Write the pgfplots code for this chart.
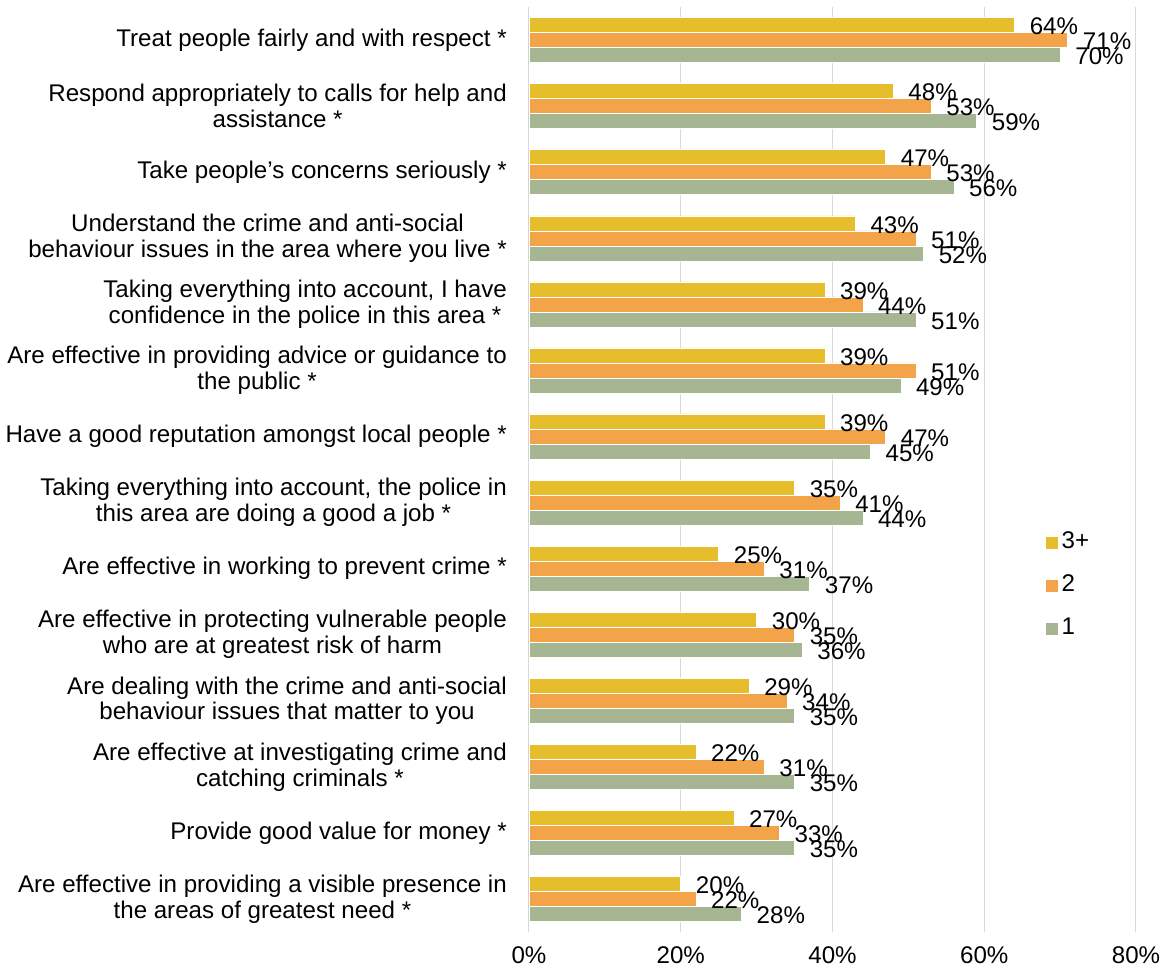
\documentclass[border=0pt]{standalone}
\usepackage{pgfplots}
\pgfplotsset{compat=1.18}
\usepackage{fontspec}
\setmainfont{Liberation Sans}
\definecolor{cThree}{HTML}{E6BE2C}
\definecolor{cTwo}{HTML}{F3A449}
\definecolor{cOne}{HTML}{A6B692}
\definecolor{gridgrey}{HTML}{D9D9D9}

\begin{document}
\begin{tikzpicture}[font=\fontsize{24.2}{26}\selectfont]
\begin{axis}[
  at={(0,0)}, anchor=south west,
  width=607bp, height=925bp, scale only axis,
  xbar, bar width=15bp,
  xmin=0, xmax=80, ymin=-0.5, ymax=13.5, y dir=reverse,
  xtick={0,20,40,60,80},
  xticklabel={\pgfmathprintnumber{\tick}\%},
  /pgf/number format/assume math mode=true,
  xmajorgrids, grid style={gridgrey, line width=1bp},
  axis line style={draw=none},
  major tick length=0pt,
  xticklabel style={anchor=north, inner sep=0pt, yshift=-14bp},
  ytick={0,...,13},
  yticklabels={
    {Treat people fairly and with respect *},
    {Respond appropriately to calls for help and\\assistance *},
    {Take people’s concerns seriously *},
    {Understand the crime and anti-social\\behaviour issues in the area where you live *},
    {Taking everything into account, I have\\confidence in the police in this area *},
    {Are effective in providing advice or guidance to\\the public *},
    {Have a good reputation amongst local people *},
    {Taking everything into account, the police in\\this area are doing a good a job *},
    {Are effective in working to prevent crime *},
    {Are effective in protecting vulnerable people\\who are at greatest risk of harm},
    {Are dealing with the crime and anti-social\\behaviour issues that matter to you},
    {Are effective at investigating crime and\\catching criminals *},
    {Provide good value for money *},
    {Are effective in providing a visible presence in\\the areas of greatest need *}
  },
  yticklabel style={align=center, anchor=east, inner sep=0pt, xshift=-22bp},
  point meta=x,
  nodes near coords={\pgfmathprintnumber{\pgfplotspointmeta}\%},
  nodes near coords style={anchor=west, inner sep=0pt, xshift=15bp, yshift=-1.5bp, black},
  legend image code/.code={\path[#1, draw=none] (0bp,-6bp) rectangle (12bp,6bp);},
  legend style={at={(0.851,0.435)}, anchor=north west, draw=none, fill=none,
    inner sep=0pt, row sep=17bp,
    nodes={inner ysep=2bp, inner xsep=4bp, text height=17bp, text depth=5bp}},
  legend cell align=left,
]
% one bar per series inside each group: 3+ on top, 1 at the bottom
\addplot[fill=cThree, draw=white, line width=0.5bp, bar shift=15bp] coordinates {
  (64,0) (48,1) (47,2) (43,3) (39,4) (39,5) (39,6)
  (35,7) (25,8) (30,9) (29,10) (22,11) (27,12) (20,13)};
\addplot[fill=cTwo, draw=white, line width=0.5bp, bar shift=0bp] coordinates {
  (71,0) (53,1) (53,2) (51,3) (44,4) (51,5) (47,6)
  (41,7) (31,8) (35,9) (34,10) (31,11) (33,12) (22,13)};
\addplot[fill=cOne, draw=white, line width=0.5bp, bar shift=-15bp] coordinates {
  (70,0) (59,1) (56,2) (52,3) (51,4) (49,5) (45,6)
  (44,7) (37,8) (36,9) (35,10) (35,11) (35,12) (28,13)};
\legend{3+,2,1}
\end{axis}
\pgfresetboundingbox
\path[use as bounding box] (-529bp,-44bp) rectangle (647bp,932bp);
\end{tikzpicture}
\end{document}
